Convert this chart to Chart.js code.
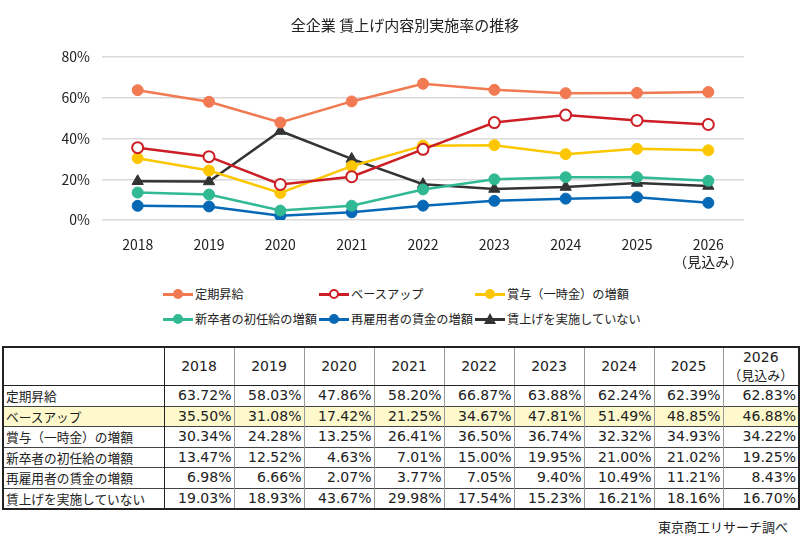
<!DOCTYPE html>
<html lang="ja">
<head>
<meta charset="utf-8">
<script src="https://cdn.jsdelivr.net/npm/chart.js@4.4.1/dist/chart.umd.min.js"></script>
<style>
  body { margin: 0; background: #fff; font-family: "Noto Sans CJK JP", "Noto Sans", sans-serif; color: #222; }
  #wrap { position: relative; width: 800px; height: 544px; overflow: hidden; }
  #title { position: absolute; left: 0; top: 15px; width: 810px; text-align: center; font-size: 15px; line-height: 20px; }
  #chart-box { position: absolute; left: 0; top: 0; width: 800px; height: 280px; }
  #legend { position: absolute; left: 163px; top: 284px; width: 630px; display: grid;
            grid-template-columns: 156px 156px 240px; row-gap: 5px; font-size: 12.2px; }
  .lg-item { display: flex; align-items: center; height: 20px; white-space: nowrap; }
  .lg-mark { position: relative; width: 30px; height: 20px; margin-right: 2px; }
  .lg-line { position: absolute; left: 0; right: 0; top: 9px; height: 2.5px; }
  .lg-dot { position: absolute; left: 10px; top: 5px; width: 10px; height: 10px; border-radius: 50%; box-sizing: border-box; }
  .lg-tri { position: absolute; left: 9px; top: 4px; width: 0; height: 0;
            border-left: 6px solid transparent; border-right: 6px solid transparent; border-bottom: 11px solid #333; }
  table { position: absolute; left: 2px; top: 346px; border-collapse: collapse; table-layout: fixed;
          font-family: "DejaVu Sans", "Noto Sans CJK JP", sans-serif; font-size: 14px; border: 2px solid #222; }
  td, th { padding: 0 2px; border-left: 1px solid #999; border-top: 1px solid #444; font-weight: normal; white-space: nowrap; overflow: hidden; }
  th { height: 37px; text-align: center; line-height: 17px; border-bottom: 1.5px solid #222; }
  th .sub { font-family: "Noto Sans CJK JP", sans-serif; font-size: 13px; }
  td { height: 19.5px; text-align: right; line-height: 19px; }
  td.name, th.name { text-align: left; border-right: 1.5px solid #222; font-family: "Noto Sans CJK JP", sans-serif; font-size: 12.7px; }
  tr.hl td { background: #fdf9cc; }
  #source { position: absolute; right: 12px; top: 517px; font-size: 13px; }
</style>
</head>
<body>
<div id="wrap">
  <div id="chart-box"><canvas id="wageChart"></canvas></div>
  <div id="title">全企業 賃上げ内容別実施率の推移</div>
  <div id="legend"></div>
  <table id="data-table"></table>
  <div id="source">東京商工リサーチ調べ</div>
</div>
<script>
// --- Data ---
const years = ['2018', '2019', '2020', '2021', '2022', '2023', '2024', '2025', '2026'];
const yearLabels = ['2018', '2019', '2020', '2021', '2022', '2023', '2024', '2025', ['2026', '（見込み）']];
const seriesNames = ['定期昇給', 'ベースアップ', '賞与（一時金）の増額', '新卒者の初任給の増額', '再雇用者の賃金の増額', '賃上げを実施していない'];

const teikiShokyu = [63.72, 58.03, 47.86, 58.20, 66.87, 63.88, 62.24, 62.39, 62.83];
const baseUp = [35.50, 31.08, 17.42, 21.25, 34.67, 47.81, 51.49, 48.85, 46.88];
const shoyo = [30.34, 24.28, 13.25, 26.41, 36.50, 36.74, 32.32, 34.93, 34.22];
const shinsotsu = [13.47, 12.52, 4.63, 7.01, 15.00, 19.95, 21.00, 21.02, 19.25];
const saikoyo = [6.98, 6.66, 2.07, 3.77, 7.05, 9.40, 10.49, 11.21, 8.43];
const jisshiNashi = [19.03, 18.93, 43.67, 29.98, 17.54, 15.23, 16.21, 18.16, 16.70];

const yTicks = [0, 20, 40, 60, 80];

const allSeries = [teikiShokyu, baseUp, shoyo, shinsotsu, saikoyo, jisshiNashi];
const colors = ['#f27a52', '#cc1f25', '#fcc700', '#30b993', '#0769b5', '#333333'];

// --- Chart ---
const datasets = allSeries.map((values, i) => {
    const hollow = i === 1;
    const tri = i === 5;
    return {
        label: seriesNames[i],
        data: values,
        borderColor: colors[i],
        backgroundColor: colors[i],
        pointBackgroundColor: hollow ? '#ffffff' : colors[i],
        pointBorderColor: colors[i],
        pointBorderWidth: hollow ? 2 : 1,
        pointStyle: tri ? 'triangle' : 'circle',
        pointRadius: tri ? 6.5 : 5.5,
        borderWidth: 2.5,
        tension: 0
    };
});

const ctx = document.getElementById('wageChart').getContext('2d');
new Chart(ctx, {
    type: 'line',
    data: { labels: yearLabels, datasets: datasets },
    options: {
        responsive: true,
        maintainAspectRatio: false,
        animation: false,
        layout: { padding: { left: 0, right: 56, top: 57, bottom: 0 } },
        plugins: {
            legend: { display: false },
            tooltip: { enabled: false },
            title: { display: false }
        },
        scales: {
            x: {
                offset: true,
                grid: { display: false },
                border: { display: false },
                ticks: { color: '#222', padding: 8, maxRotation: 0, autoSkip: false, font: { family: '"Noto Sans CJK JP"', size: 14 } },
                afterFit: (s) => { s.height = 60; }
            },
            y: {
                min: 0,
                max: 80,
                afterBuildTicks: (s) => { s.ticks = yTicks.map(v => ({ value: v })); },
                grid: { color: '#d9d9d9', lineWidth: 1.5, drawTicks: false },
                border: { display: false },
                ticks: { color: '#222', padding: 12, font: { family: '"Noto Sans CJK JP"', size: 14 }, callback: (v) => v + '%' },
                afterFit: (s) => { s.width = 102; }
            }
        }
    }
});

// --- Legend ---
const legendEl = document.getElementById('legend');
seriesNames.forEach((name, i) => {
    const item = document.createElement('div');
    item.className = 'lg-item';
    let mark = '';
    if (i === 5) {
        mark = `<div class="lg-tri"></div>`;
    } else if (i === 1) {
        mark = `<div class="lg-dot" style="background:#fff;border:2px solid ${colors[i]}"></div>`;
    } else {
        mark = `<div class="lg-dot" style="background:${colors[i]}"></div>`;
    }
    item.innerHTML = `<div class="lg-mark"><div class="lg-line" style="background:${colors[i]}"></div>${mark}</div><span>${name}</span>`;
    legendEl.appendChild(item);
});

// --- Table ---
const tableEl = document.getElementById('data-table');
const colWidths = [161, 70, 70, 70, 70, 70, 70, 70, 69, 76];
let html = '<colgroup>' + colWidths.map(w => `<col style="width:${w}px">`).join('') + '</colgroup>';
html += '<tr><th class="name"></th>' + years.map((y, i) => i === 8 ? `<th>${y}<br><span class="sub">（見込み）</span></th>` : `<th>${y}</th>`).join('') + '</tr>';
allSeries.forEach((values, i) => {
    html += `<tr class="${i === 1 ? 'hl' : ''}"><td class="name">${seriesNames[i]}</td>` +
        values.map(v => `<td>${v.toFixed(2)}%</td>`).join('') + '</tr>';
});
tableEl.innerHTML = html;
</script>
</body>
</html>
